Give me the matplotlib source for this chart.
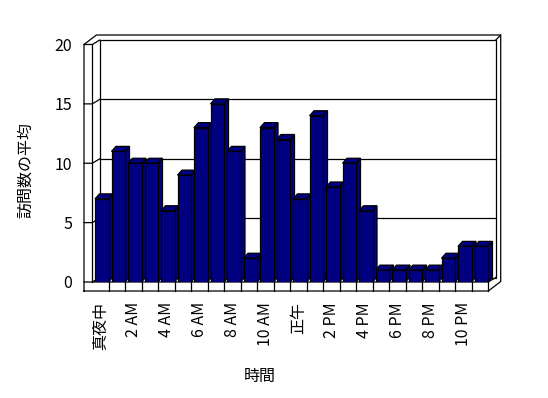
import matplotlib.pyplot as plt
from matplotlib.patches import Polygon

plt.rcParams['font.family'] = ['Noto Sans CJK JP', 'DejaVu Sans']

# data: average visits per hour of day
hours = list(range(24))
visits = [7, 11, 10, 10, 6, 9, 13, 15, 11, 2, 13, 12, 7, 14, 8, 10, 6, 1, 1, 1, 1, 2, 3, 3]
tick_labels = ["真夜中", "2 AM", "4 AM", "6 AM", "8 AM", "10 AM",
               "正午", "2 PM", "4 PM", "6 PM", "8 PM", "10 PM"]
y_ticks = [0, 5, 10, 15, 20]
y_max = 20

W, H = 548, 398
fig = plt.figure(figsize=(W / 100, H / 100), dpi=100)
fig.patch.set_facecolor("white")

# front plane of the floor (pixels)
left_px, right_px = 92.3, 488.3
top_px, bot_px = 44.5, 282.0
ax = fig.add_axes([left_px / W, 1 - bot_px / H,
                   (right_px - left_px) / W, (bot_px - top_px) / H])
n = len(hours)
ax.set_xlim(0, n)
ax.set_ylim(0, y_max)
ax.set_facecolor("none")
for s in ax.spines.values():
    s.set_visible(False)

# pixel -> data unit
sx = n / (right_px - left_px)
sy = y_max / (bot_px - top_px)


def pt(x, v, dx=0.0, dy=0.0):
    return (x + dx * sx, v + dy * sy)


D = (7.5, 4.5)     # depth to inner face of back wall
O = (12.4, 9.5)    # depth to outer face of back wall
LW = 8.3           # left wall thickness
FL = 9.0           # floor thickness
B = (4.5, 5.0)     # bar depth
lw = 0.9


def line(*pts, z=1):
    xs = [p[0] for p in pts]
    ys = [p[1] for p in pts]
    ax.plot(xs, ys, color="black", lw=lw, clip_on=False, zorder=z,
            solid_joinstyle="miter")


# outer contour
line(pt(0, 0, -LW, -FL), pt(0, y_max, -LW, 0), pt(0, y_max, -LW + O[0], O[1]),
     pt(n, y_max, *O), pt(n, 0, O[0], -FL + O[1]), pt(n, 0, 0, -FL),
     pt(0, 0, -LW, -FL))

# back wall inner face + gridlines
line(pt(0, 0, *D), pt(0, y_max, *D), pt(n, y_max, *D), pt(n, 0, *D), pt(0, 0, *D))
for v in y_ticks[1:-1]:
    line(pt(0, v, *D), pt(n, v, *D))
line(pt(n, y_max, *D), pt(n, y_max, *O))

# left wall
line(pt(0, 0), pt(0, y_max))
for v in y_ticks:
    line(pt(0, v, -LW, 0), pt(0, v), pt(0, v, *D))

# floor
line(pt(0, 0), pt(n, 0), pt(n, 0, *D))
line(pt(n, 0), pt(n, 0, 0, -FL))

# bars
bar_off = 2.7 * sx
bar_w = 13.5 * sx
lefts = [h + bar_off for h in hours]
bars = ax.bar(lefts, visits, width=bar_w, align="edge", color="#000080",
              edgecolor="black", linewidth=lw)
for i, (rect, x, v) in enumerate(zip(bars, lefts, visits)):
    z = 3 + i * 0.01
    rect.set_zorder(z + 0.005)
    xr = x + bar_w
    side = [pt(xr, 0), pt(xr, v), pt(xr, v, *B), pt(xr, 0, *B)]
    top = [pt(x, v), pt(xr, v), pt(xr, v, *B), pt(x, v, *B)]
    for poly in (side, top):
        ax.add_patch(Polygon(poly, closed=True, facecolor="#000080",
                             edgecolor="black", linewidth=lw, zorder=z,
                             clip_on=False))

# category separators on floor front face
for i in range(1, n):
    line(pt(i, 0), pt(i, 0, 0, -FL), z=4)

ax.set_xticks([h + 0.5 for h in hours[::2]])
ax.set_xticklabels(tick_labels, rotation=90, fontsize=11.5)
ax.set_yticks(y_ticks)
ax.set_yticklabels([str(v) for v in y_ticks], fontsize=11.5)
ax.tick_params(axis="x", length=0, pad=14.5)
ax.tick_params(axis="y", length=0, pad=14.6)

fig.text(26 / W, 1 - 170 / H, "訪問数の平均", rotation=90, ha="center",
         va="center", fontsize=11.5)
fig.text(259.5 / W, 1 - 376 / H, "時間", ha="center", va="center",
         fontsize=11.5)

fig.savefig("out.png", dpi=100, facecolor="white")
